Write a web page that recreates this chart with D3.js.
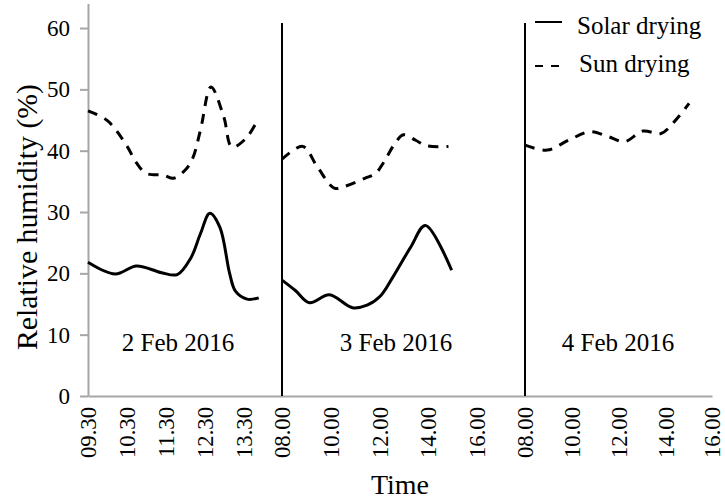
<!DOCTYPE html>
<html>
<head>
<meta charset="utf-8">
<script src="https://cdn.jsdelivr.net/npm/d3@7"></script>
<style>
  html, body { margin: 0; padding: 0; background: #ffffff; }
  svg { display: block; }
  svg text { font-family: "Liberation Serif", "Times New Roman", Times, "DejaVu Serif", serif !important; fill: #000; }
</style>
</head>
<body>
<svg id="chart" width="725" height="500"></svg>
<script>
// ---------- data (times in hours of the day, humidity in %) ----------
const dayLabels = ["2 Feb 2016", "3 Feb 2016", "4 Feb 2016"];
const seriesNames = ["Solar drying", "Sun drying"];

// 2 Feb 2016
const day1SolarTime = [9.5, 10.2, 10.75, 11.4, 11.8, 12.15, 12.4, 12.64, 12.9, 13.15, 13.3, 13.6, 13.9];
const day1SolarRH   = [21.8, 19.9, 21.2, 20.1, 19.8, 22.5, 26.5, 29.8, 27.5, 20.0, 17.1, 15.8, 16.0];
const day1SunTime   = [9.5, 10.0, 10.5, 10.75, 11.0, 11.45, 11.7, 12.0, 12.2, 12.4, 12.67, 13.0, 13.21, 13.57, 13.88];
const day1SunRH     = [46.5, 44.9, 40.8, 38.0, 36.3, 36.0, 35.5, 36.8, 38.8, 43.4, 50.4, 45.5, 40.6, 42.0, 45.1];

// 3 Feb 2016
const day2SolarTime = [8.0, 8.55, 9.13, 9.95, 10.9, 11.5, 12.05, 12.55, 13.3, 13.9, 14.98];
const day2SolarRH   = [18.9, 17.2, 15.2, 16.5, 14.4, 14.8, 16.3, 19.3, 24.3, 27.8, 20.5];
const day2SunTime   = [8.0, 8.85, 9.45, 10.15, 10.6, 11.4, 11.85, 12.2, 12.65, 13.0, 13.5, 13.95, 14.85];
const day2SunRH     = [38.6, 40.7, 37.4, 33.9, 34.2, 35.5, 36.3, 38.2, 41.2, 42.6, 41.7, 40.8, 40.7];

// 4 Feb 2016
const day3SunTime   = [8.0, 8.95, 9.86, 10.78, 11.56, 12.27, 13.04, 13.82, 14.38, 15.02];
const day3SunRH     = [40.9, 40.1, 41.7, 43.1, 42.3, 41.5, 43.2, 42.8, 44.7, 47.7];

// x tick labels (per day) and their times
const day1TickTimes = [9.5, 10.5, 11.5, 12.5, 13.5];
const day1TickLabels = ["09.30", "10.30", "11.30", "12.30", "13.30"];
const day2TickTimes = [8, 10, 12, 14, 16];
const day2TickLabels = ["08.00", "10.00", "12.00", "14.00", "16.00"];
const day3TickTimes = [8, 10, 12, 14, 16];
const day3TickLabels = ["08.00", "10.00", "12.00", "14.00", "16.00"];

const yTicks = [0, 10, 20, 30, 40, 50, 60];

// ---------- chart ----------
const FONT = '"Liberation Serif", "Times New Roman", Times, "DejaVu Serif", serif';
const svg = d3.select("#chart").attr("font-family", FONT);
const axisGrey = "#a6a6a6";

// scale a text's font so its length matches the reference length
function fitLength(sel, baseSize, target) {
  sel.attr("font-size", baseSize);
  const n = sel.node();
  if (!n || !n.getComputedTextLength) return;
  const len = n.getComputedTextLength();
  if (len > 0) sel.attr("font-size", (baseSize * target / len).toFixed(2));
}

// continuous time: day index * 24 + hour
const abs = (day, h) => day * 24 + h;

// piecewise (polylinear) scale: each day is its own panel
const x = d3.scaleLinear()
  .domain([abs(0, 9.5), abs(0, 14.5), abs(1, 8), abs(1, 18), abs(2, 8), abs(2, 16)])
  .range([88, 282, 282, 525, 525, 712]);

const y = d3.scaleLinear().domain([0, 64]).range([396, 3.5]);

// y axis
const yAxis = svg.append("g")
  .attr("transform", "translate(88,0)")
  .call(d3.axisLeft(y).tickValues(yTicks).tickSize(8).tickSizeOuter(0).tickPadding(10).tickFormat(d3.format("d")));
yAxis.attr("font-family", FONT);
yAxis.select(".domain").attr("stroke", axisGrey).attr("stroke-width", 2);
yAxis.selectAll(".tick line").attr("stroke", axisGrey).attr("stroke-width", 2);
yAxis.selectAll(".tick text").attr("font-size", 23).attr("fill", "#000");

// x axis
const tickVals = [
  ...day1TickTimes.map(h => abs(0, h)),
  ...day2TickTimes.map(h => abs(1, h)),
  ...day3TickTimes.map(h => abs(2, h))
];
const tickTxt = [...day1TickLabels, ...day2TickLabels, ...day3TickLabels];
const xAxis = svg.append("g")
  .attr("transform", "translate(0,396)")
  .call(d3.axisBottom(x).tickValues(tickVals).tickSize(0).tickSizeOuter(0)
    .tickFormat((d, i) => tickTxt[i]));
xAxis.attr("font-family", FONT);
xAxis.select(".domain").attr("stroke", axisGrey).attr("stroke-width", 2);
const xt = xAxis.selectAll(".tick text")
  .attr("fill", "#000")
  .attr("text-anchor", "end")
  .attr("y", 0).attr("x", 0)
  .attr("dy", "0.35em")
  .attr("transform", "translate(0,11) rotate(-90)");
// match reference label length (~51px)
fitLength(d3.select(xt.nodes()[0]), 23, 51);
xt.attr("font-size", d3.select(xt.nodes()[0]).attr("font-size"));

// day separators
[abs(1, 8), abs(2, 8)].forEach(t => {
  svg.append("line")
    .attr("x1", x(t)).attr("x2", x(t))
    .attr("y1", 23).attr("y2", 396)
    .attr("stroke", "#000").attr("stroke-width", 2);
});

// lines
const line = d3.line()
  .x(d => x(d[0]))
  .y(d => y(d[1]))
  .curve(d3.curveCatmullRom.alpha(0.5));

function series(day, times, vals) {
  return times.map((t, i) => [abs(day, t), vals[i]]);
}

const solid = [
  series(0, day1SolarTime, day1SolarRH),
  series(1, day2SolarTime, day2SolarRH)
];
const dashed = [
  series(0, day1SunTime, day1SunRH),
  series(1, day2SunTime, day2SunRH),
  series(2, day3SunTime, day3SunRH)
];

solid.forEach(s => svg.append("path").datum(s)
  .attr("d", line).attr("fill", "none").attr("stroke", "#000").attr("stroke-width", 3));
dashed.forEach(s => svg.append("path").datum(s)
  .attr("d", line).attr("fill", "none").attr("stroke", "#000").attr("stroke-width", 3)
  .attr("stroke-dasharray", "10,8"));

// day annotations
const dayCenters = [178, 396, 618];
dayLabels.forEach((lab, i) => {
  svg.append("text").attr("x", dayCenters[i]).attr("y", 351)
    .attr("text-anchor", "middle").attr("font-size", 25).text(lab);
});

// axis titles
const yTitle = svg.append("text")
  .attr("transform", "translate(37,217) rotate(-90)")
  .attr("text-anchor", "middle")
  .text("Relative humidity (%)");
fitLength(yTitle, 28, 266);
svg.append("text").attr("x", 400).attr("y", 494)
  .attr("text-anchor", "middle").attr("font-size", 28).text("Time");

// legend
const lg = svg.append("g");
lg.append("line").attr("x1", 535).attr("x2", 562).attr("y1", 22).attr("y2", 22)
  .attr("stroke", "#000").attr("stroke-width", 2);
lg.append("text").attr("x", 577).attr("y", 34).attr("font-size", 25).text(seriesNames[0]);
lg.append("line").attr("x1", 535).attr("x2", 562).attr("y1", 66).attr("y2", 66)
  .attr("stroke", "#000").attr("stroke-width", 2).attr("stroke-dasharray", "8,8");
lg.append("text").attr("x", 579).attr("y", 72).attr("font-size", 25).text(seriesNames[1]);
</script>
</body>
</html>
